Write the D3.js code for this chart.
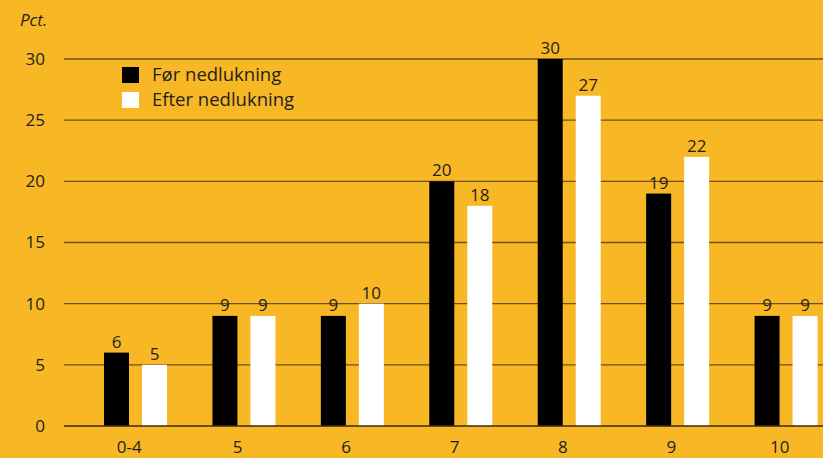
<!DOCTYPE html>
<html>
<head>
<meta charset="utf-8">
<script src="https://cdn.jsdelivr.net/npm/d3@7"></script>
<style>
  html, body { margin: 0; padding: 0; background: #F8B724; }
  svg { display: block; }
  text { font-family: "Open Sans", "Noto Sans", sans-serif; fill: #231f20; }
</style>
</head>
<body>
<svg id="chart" width="823" height="458"></svg>
<script>
// Categories along the x axis
const categories = ["0-4", "5", "6", "7", "8", "9", "10"];
// Series names (legend) and their values, in percent
const seriesNames = ["Før nedlukning", "Efter nedlukning"];
const beforeValues = [6, 9, 9, 20, 30, 19, 9];
const afterValues = [5, 9, 10, 18, 27, 22, 9];
// Y axis ticks
const yTicks = [0, 5, 10, 15, 20, 25, 30];

const seriesColors = ["#000000", "#ffffff"];
const width = 823, height = 458;
const plot = { left: 64, right: 823, top: 59, bottom: 426 };

const svg = d3.select("#chart");
svg.append("rect").attr("width", width).attr("height", height).attr("fill", "#F8B724");

const x = d3.scaleBand().domain(categories).range([plot.left, plot.right]).padding(0);
const xSeries = d3.scaleBand().domain(seriesNames).range([40, 103]).paddingInner(13 / 38).paddingOuter(0);
const y = d3.scaleLinear().domain([0, 30]).range([plot.bottom, plot.top]);

// Gridlines
svg.append("g")
  .selectAll("line")
  .data(yTicks.filter(t => t !== 0))
  .join("line")
  .attr("x1", plot.left).attr("x2", plot.right)
  .attr("y1", d => y(d)).attr("y2", d => y(d))
  .attr("stroke", "#6f5215").attr("stroke-width", 1.3);

// Y axis labels
const yAxis = svg.append("g")
  .attr("transform", `translate(${plot.left - 19},0)`)
  .call(d3.axisLeft(y).tickValues(yTicks).tickSize(0).tickPadding(0));
yAxis.select(".domain").remove();
yAxis.selectAll("text").attr("font-size", 17).attr("fill", "#231f20")
  .style("font-family", '"Open Sans", sans-serif');

svg.append("text").attr("x", 20).attr("y", 26)
  .attr("font-size", 17).attr("font-style", "italic").text("Pct.");

// Bars
const rows = categories.map((c, i) => ({ cat: c, vals: [beforeValues[i], afterValues[i]] }));
const groups = svg.append("g").selectAll("g")
  .data(rows).join("g")
  .attr("transform", d => `translate(${x(d.cat)},0)`);

groups.selectAll("rect")
  .data(d => d.vals.map((v, k) => ({ v, s: seriesNames[k], k })))
  .join("rect")
  .attr("x", d => xSeries(d.s))
  .attr("width", xSeries.bandwidth())
  .attr("y", d => y(d.v))
  .attr("height", d => y(0) - y(d.v))
  .attr("fill", d => seriesColors[d.k]);

groups.selectAll("text.val")
  .data(d => d.vals.map((v, k) => ({ v, s: seriesNames[k], k })))
  .join("text")
  .attr("class", "val")
  .attr("x", d => xSeries(d.s) + xSeries.bandwidth() / 2)
  .attr("y", d => y(d.v) - 5)
  .attr("text-anchor", "middle")
  .attr("font-size", 17)
  .text(d => d.v);

// Baseline
svg.append("line")
  .attr("x1", plot.left).attr("x2", plot.right)
  .attr("y1", y(0)).attr("y2", y(0))
  .attr("stroke", "#3a2a0a").attr("stroke-width", 1.6);

// X axis labels
const xAxis = svg.append("g")
  .attr("transform", `translate(11,${plot.bottom})`)
  .call(d3.axisBottom(x).tickSize(0).tickPadding(15));
xAxis.select(".domain").remove();
xAxis.selectAll("text").attr("font-size", 17).attr("fill", "#231f20")
  .style("font-family", '"Open Sans", sans-serif');

// Legend
const legend = svg.append("g");
seriesNames.forEach((name, k) => {
  legend.append("rect")
    .attr("x", 122).attr("y", 67 + k * 25)
    .attr("width", 17).attr("height", 16)
    .attr("fill", seriesColors[k]);
  legend.append("text")
    .attr("x", 152).attr("y", 81 + k * 25)
    .attr("font-size", 18.5)
    .text(name);
});
</script>
</body>
</html>
